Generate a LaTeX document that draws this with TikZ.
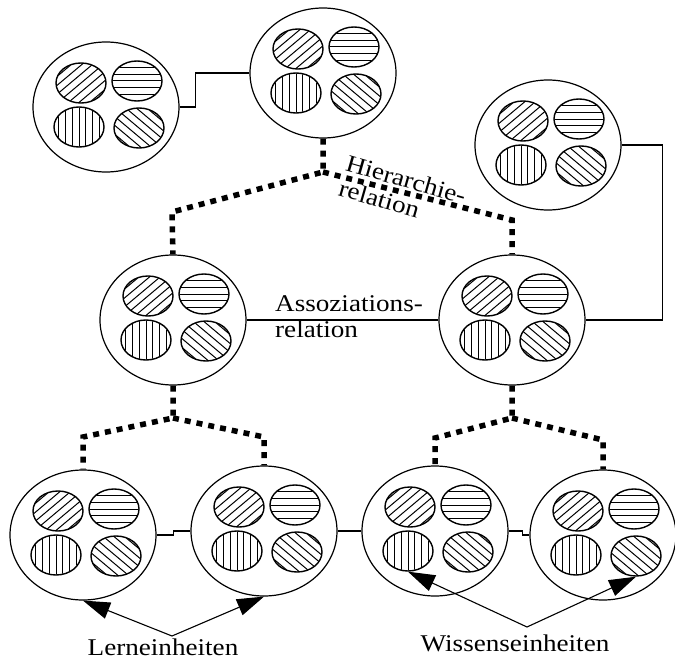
\documentclass[tikz,border=0pt]{standalone}
\usepackage{fontspec}
\newfontfamily\lblfont{Liberation Serif}[FakeStretch=1.13]
\usetikzlibrary{shapes.geometric,arrows.meta}
\tikzset{
 big/.style={draw, ellipse, minimum width=146pt, minimum height=130pt, inner sep=0pt, line width=1.2pt},
 small/.style={draw, ellipse, minimum width=50pt, minimum height=40pt, inner sep=0pt, line width=1.4pt},
 hl/.style={line width=1pt},
 hier/.style={line width=5.5pt, dash pattern=on 6pt off 6pt},
 conn/.style={line width=1.1pt},
 lbl/.style={font=\lblfont\fontsize{24}{26}\selectfont, inner sep=0pt},
 arr/.style={line width=1.1pt, -{Triangle[length=27pt,width=17pt]}},
}
% hatched small unit: name, x, y, angle
\newcommand\hatchel[4]{%
 \begin{scope}
 \clip (#2,#3) ellipse [x radius=24.5, y radius=19.5];
 \begin{scope}[rotate around={#4:(#2,#3)}]
 \foreach \k in {-6,...,6} \draw[hl] ({#2-45},{#3+(\k)*6.8}) -- ({#2+45},{#3+(\k)*6.8});
 \end{scope}
 \end{scope}
 \node[small] (#1) at (#2,#3) {};
}
\newcommand\mkunit[3]{%
 \node[big] (#1) at (#2,#3) {};
 \hatchel{#1-a}{#2-25}{#3-24}{40}
 \hatchel{#1-b}{#2+31}{#3-26}{0}
 \hatchel{#1-c}{#2-27}{#3+20}{90}
 \hatchel{#1-d}{#2+33}{#3+21}{-40}
}
\begin{document}
\begin{tikzpicture}[x=1pt,y=-1pt]
\useasboundingbox (0,0) rectangle (675,661);
% units
\mkunit{tl}{106}{107}
\mkunit{tm}{323}{73}
\mkunit{rt}{548}{145}
\mkunit{ml}{173}{320}
\mkunit{mr}{512}{320}
\mkunit{ba}{83}{535}
\mkunit{bb}{264}{531}
\mkunit{bc}{435}{531}
\mkunit{bd}{603}{535}
% association connectors
\draw[conn] (tl.east) -- ++(16,0) |- (tm.west);
\draw[conn] (rt.east) -- ++(41,0) |- (mr.east);
\draw[conn] (ml.east) -- (mr.west);
\draw[conn] (ba.east) -- ++(17,0) |- (bb.west);
\draw[conn] (bb.east) -- (bc.west);
\draw[conn] (bc.east) -- ++(14,0) |- (bd.west);
% hierarchy connectors
\coordinate (j1) at (323,172);
\coordinate (c1) at (172,212);
\coordinate (c2) at (512,220);
\coordinate (j2) at (173,418);
\coordinate (c3) at (83,437);
\coordinate (c4) at (264,437);
\coordinate (j3) at (512,418);
\coordinate (c5) at (435,438);
\coordinate (c6) at (603,440);
\draw[hier] (tm.south) -- (j1) -- (c1) -- (ml.north);
\draw[hier] (j1) -- (c2) -- (mr.north);
\draw[hier] (ml.south) -- (j2) -- (c3) -- (ba.north);
\draw[hier] (j2) -- (c4) -- (bb.north);
\draw[hier] (mr.south) -- (j3) -- (c5) -- (bc.north);
\draw[hier] (j3) -- (c6) -- (bd.north);
% labels
\node[lbl, rotate=-16, anchor=north west, align=left] (hierlbl) at (349,154) {Hierarchie-\\relation};
\node[lbl, anchor=north west, align=left] (assoc) at (275,295) {Assoziations-\\relation};
\node[lbl, anchor=base] (lern) at (163,655) {Lerneinheiten};
\node[lbl, anchor=base] (wissen) at (515,651) {Wissenseinheiten};
% arrows
\coordinate (lj) at (172,636);
\coordinate (wj) at (527,627);
\draw[arr] (lj) -- (ba.south);
\draw[arr] (lj) -- (bb.south);
\draw[arr] (wj) -- (bc-c.south);
\draw[arr] (wj) -- (bd-d.south);
\end{tikzpicture}
\end{document}
